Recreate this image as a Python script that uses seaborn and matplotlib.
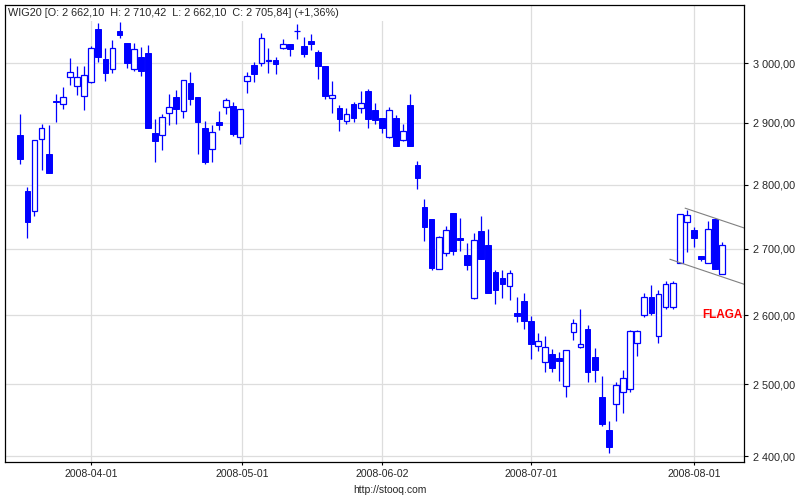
import numpy as np
import seaborn as sns
import matplotlib
matplotlib.use("Agg")
import matplotlib.pyplot as plt
from matplotlib.patches import Rectangle
from matplotlib.ticker import FixedLocator, NullLocator, NullFormatter

# WIG20 daily candles, mid-March .. early August 2008
opens = [2880, 2790, 2758, 2873, 2850, 2937, 2931, 2976, 2961, 2944,
         2968, 3059, 3008, 2990, 3055, 3034, 2991, 3011, 3018, 2883,
         2881, 2916, 2943, 2920, 2967, 2943, 2891, 2857, 2902, 2926,
         2928, 2877, 2970, 2997, 3000, 3004, 3006, 3027, 3033, 3056,
         3029, 3038, 3019, 2995, 2941, 2925, 2903, 2931, 2924, 2953,
         2921, 2909, 2877, 2908, 2872, 2930, 2831, 2765, 2746, 2669,
         2693, 2755, 2716, 2690, 2625, 2727, 2706, 2665, 2655, 2643,
         2603, 2621, 2591, 2555, 2532, 2544, 2538, 2497, 2575, 2553,
         2579, 2539, 2482, 2436, 2472, 2489, 2493, 2560, 2601, 2627,
         2569, 2612, 2612, 2678, 2741, 2729, 2689, 2678, 2746, 2662.10]
highs = [2915, 2797, 2872, 2899, 2897, 2948, 2960, 3009, 2995, 2995,
         3030, 3069, 3026, 3040, 3072, 3034, 3034, 3028, 3031, 2906,
         2915, 2948, 2954, 2971, 2985, 2943, 2903, 2896, 2920, 2941,
         2935, 2923, 2985, 3003, 3052, 3026, 3011, 3042, 3033, 3068,
         3045, 3050, 3023, 2995, 2970, 2930, 2925, 2934, 2953, 2957,
         2933, 2909, 2926, 2913, 2899, 2948, 2838, 2778, 2746, 2720,
         2735, 2755, 2748, 2709, 2724, 2751, 2730, 2667, 2667, 2667,
         2627, 2633, 2599, 2574, 2569, 2550, 2546, 2549, 2594, 2609,
         2585, 2552, 2512, 2448, 2503, 2521, 2578, 2578, 2633, 2645,
         2637, 2651, 2651, 2754, 2760, 2733, 2689, 2743, 2747, 2710.42]
lows = [2833, 2716, 2750, 2824, 2819, 2902, 2923, 2964, 2947, 2921,
        2966, 3003, 2970, 2984, 3043, 2992, 2987, 2979, 2891, 2836,
        2856, 2896, 2898, 2909, 2930, 2850, 2833, 2837, 2888, 2915,
        2879, 2866, 2949, 2969, 2996, 2984, 2981, 3024, 3013, 3041,
        3010, 3022, 2974, 2940, 2916, 2887, 2898, 2902, 2917, 2891,
        2898, 2883, 2876, 2862, 2870, 2863, 2794, 2712, 2668, 2669,
        2689, 2690, 2696, 2668, 2624, 2685, 2633, 2616, 2626, 2622,
        2590, 2579, 2536, 2548, 2517, 2518, 2505, 2482, 2563, 2552,
        2503, 2503, 2441, 2404, 2448, 2459, 2489, 2541, 2597, 2601,
        2559, 2609, 2609, 2678, 2695, 2702, 2681, 2678, 2669, 2662.10]
closes = [2842, 2741, 2872, 2891, 2819, 2934, 2943, 2986, 2976, 2980,
          3027, 3011, 2984, 3026, 3049, 3000, 3024, 2987, 2891, 2871,
          2910, 2927, 2923, 2971, 2939, 2901, 2837, 2885, 2896, 2938,
          2882, 2923, 2978, 2982, 3043, 3006, 2998, 3033, 3024, 3056,
          3015, 3033, 2995, 2944, 2946, 2907, 2915, 2909, 2933, 2906,
          2905, 2891, 2921, 2862, 2887, 2863, 2811, 2733, 2671, 2718,
          2729, 2696, 2714, 2675, 2713, 2685, 2633, 2637, 2646, 2663,
          2599, 2591, 2558, 2562, 2553, 2523, 2533, 2549, 2588, 2558,
          2517, 2520, 2444, 2412, 2499, 2509, 2577, 2577, 2627, 2603,
          2631, 2646, 2648, 2754, 2752, 2716, 2684, 2730, 2669, 2705.84]

date_pos = [10, 31.3, 51, 72, 95]
date_labels = ["2008-04-01", "2008-05-01", "2008-06-02", "2008-07-01", "2008-08-01"]
price_ticks = [2400, 2500, 2600, 2700, 2800, 2900, 3000]

# flag channel drawn on the chart (session index, price)
flag_upper_x = [93.75, 102.1]
flag_upper_y = [2763, 2732]
flag_lower_x = [91.6, 102.1]
flag_lower_y = [2684, 2646]

title = "WIG20 [O: 2 662,10  H: 2 710,42  L: 2 662,10  C: 2 705,84] (+1,36%)"

sns.set_style("white")
plt.rcParams["font.family"] = ["Liberation Sans", "DejaVu Sans"]

blue = "#0000ff"
grid_c = "#dddddd"

df_x = np.arange(len(opens))
o = np.array(opens, dtype=float)
c = np.array(closes, dtype=float)
up = c >= o

fig = plt.figure(figsize=(8, 5), dpi=100)
ax = fig.add_axes([5 / 800, 38 / 500, 739.3 / 800, 457.3 / 500])

ax.set_yscale("log")
ax.set_ylim(2392, 3101.5)
ax.set_xlim(-2.16, 102.1)

# grid
for p in price_ticks:
    ax.axhline(p, color=grid_c, lw=0.9, zorder=0)
for d in date_pos:
    ax.axvline(d, color=grid_c, lw=0.9, zorder=0)

# wicks
ax.vlines(df_x, lows, highs, color=blue, lw=0.9, zorder=2)

# bodies
bottoms = np.minimum(o, c)
heights = np.abs(c - o)
ax.bar(df_x[~up], heights[~up], bottom=bottoms[~up], width=0.82,
       color=blue, edgecolor=blue, linewidth=0.7, zorder=3)
ax.bar(df_x[up], heights[up], bottom=bottoms[up], width=0.82,
       color="white", edgecolor=blue, linewidth=0.9, zorder=3)

# flag channel
ax.plot(flag_upper_x, flag_upper_y, color="#808080", lw=0.8, zorder=4, clip_on=False)
ax.plot(flag_lower_x, flag_lower_y, color="#808080", lw=0.8, zorder=4, clip_on=False)
ax.text(101.8, 2600, "FLAGA", color="#ff0000", fontsize=8.5, fontweight="bold",
        ha="right", va="center", zorder=5)

# axes cosmetics
ax.yaxis.tick_right()
ax.yaxis.set_major_locator(FixedLocator(price_ticks))
ax.yaxis.set_minor_locator(NullLocator())
ax.yaxis.set_minor_formatter(NullFormatter())
ax.set_yticklabels([f"{p // 1000} {p % 1000:03d},00" for p in price_ticks])
ax.set_xticks(date_pos)
ax.set_xticklabels(date_labels)
ax.tick_params(axis="y", which="major", direction="out", length=3, width=0.8,
               pad=3, labelsize=7.8, color="black", right=True, left=False)
ax.tick_params(axis="x", which="major", direction="out", length=2.2, width=0.8,
               pad=2.5, labelsize=7.6, color="black", bottom=True)
for s in ax.spines.values():
    s.set_color("black")
    s.set_linewidth(0.9)
    s.set_zorder(10)
ax.grid(False)

# title strip with white background
ax.add_patch(Rectangle((0, 0.965), 0.535, 0.035, transform=ax.transAxes,
                       facecolor="white", edgecolor="none", zorder=6))
ax.text(3 / 739.3, 1 - 8 / 457.3, title, transform=ax.transAxes, fontsize=7.8,
        ha="left", va="center", zorder=7)

fig.text(0.4875, 0.02, "http://stooq.com", fontsize=7.5, ha="center", va="center")

fig.savefig("out.png", dpi=100, facecolor="white")
